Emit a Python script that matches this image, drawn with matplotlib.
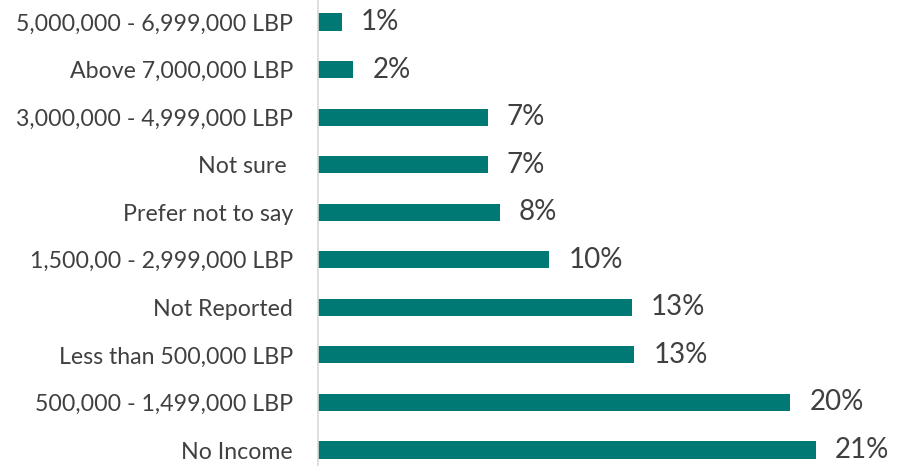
import matplotlib
matplotlib.use("Agg")
import matplotlib.pyplot as plt

# income brackets, bottom to top as drawn
CATEGORIES = [
    "No Income", "500,000 - 1,499,000 LBP", "Less than 500,000 LBP",
    "Not Reported", "1,500,00 - 2,999,000 LBP", "Prefer not to say",
    "Not sure ", "3,000,000 - 4,999,000 LBP", "Above 7,000,000 LBP",
    "5,000,000 - 6,999,000 LBP",
]
VALUES = [21.1, 20.0, 13.4, 13.3, 9.8, 7.7, 7.2, 7.2, 1.5, 1.0]
LABELS = ["21%", "20%", "13%", "13%", "10%", "8%", "7%", "7%", "2%", "1%"]

BAR_COLOR = "#007874"
TEXT_COLOR = "#404040"

plt.rcParams["font.family"] = ["Lato", "DejaVu Sans"]

fig = plt.figure(figsize=(8.99, 4.66), dpi=100)
ax = fig.add_axes([318 / 899, 0, 1 - 318 / 899, 1])

ypos = range(len(CATEGORIES))
ax.barh(ypos, VALUES, height=0.36, color=BAR_COLOR)
for y, v, lab in zip(ypos, VALUES, LABELS):
    ax.text(v + 0.8, y, lab, va="center", ha="left",
            fontsize=20, color=TEXT_COLOR)

ax.set_yticks(list(ypos))
ax.set_yticklabels(CATEGORIES, fontsize=16.7, color=TEXT_COLOR)
ax.tick_params(axis="y", length=0, pad=18)
ax.set_xticks([])
ax.set_xlim(0, 24.6)
ax.set_ylim(-0.336, 9.463)
for side in ("top", "right", "bottom"):
    ax.spines[side].set_visible(False)
ax.spines["left"].set_color("#d9d9d9")
ax.spines["left"].set_linewidth(1.2)

fig.savefig("out.png", dpi=100)
